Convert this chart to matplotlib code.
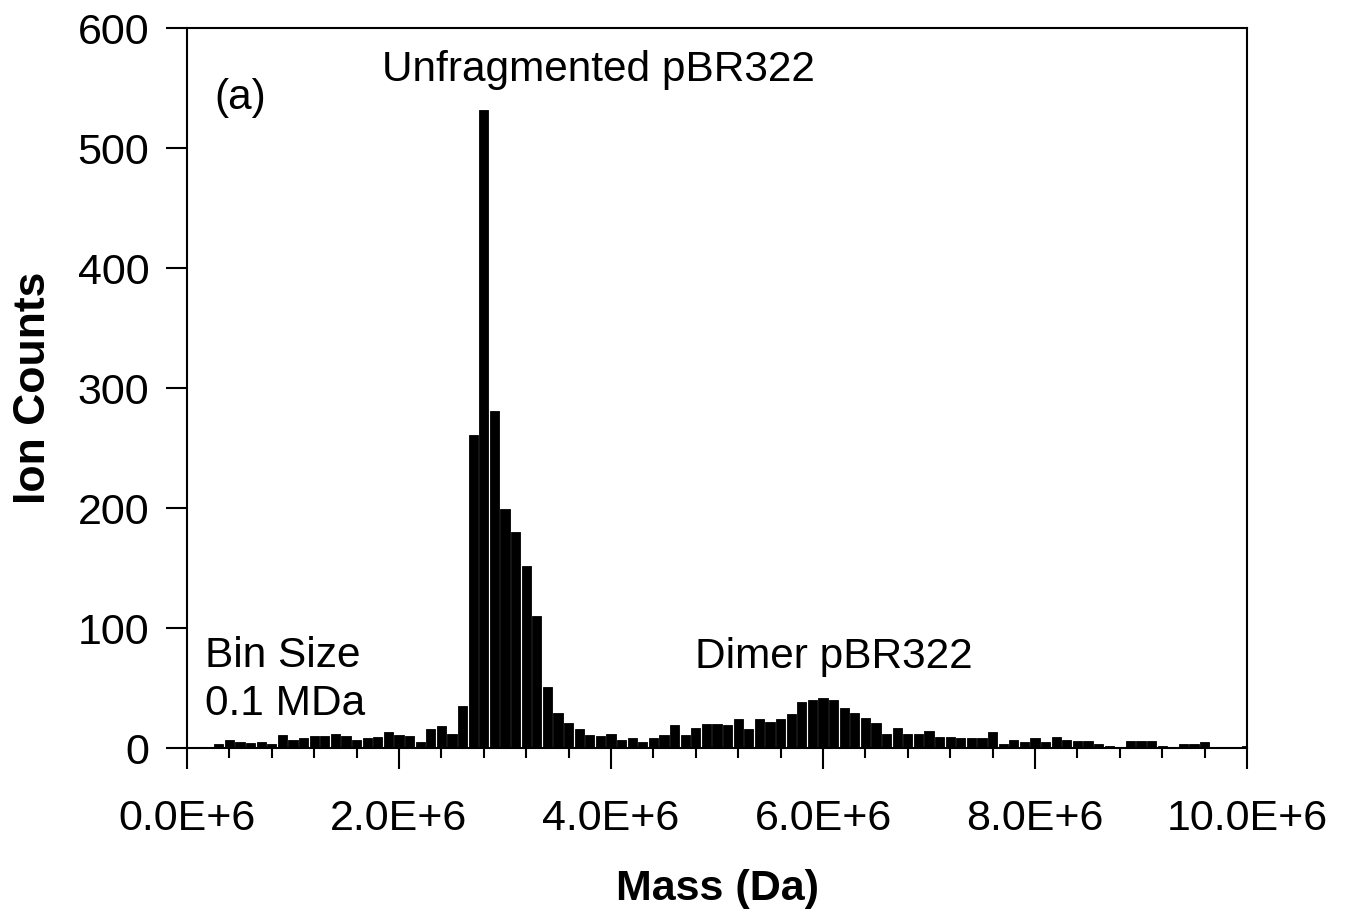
import numpy as np
import matplotlib
matplotlib.use('Agg')
import matplotlib.pyplot as plt
from matplotlib.ticker import MultipleLocator, FuncFormatter

# ion counts per 0.1 MDa bin, bins 0.0 .. 10.0 MDa
counts = [1, 1, 1, 3, 7, 5, 4, 5, 3, 11,
          7, 8, 10, 10, 12, 10, 7, 8, 9, 13,
          11, 10, 5, 16, 18, 12, 35, 261, 532, 281,
          199, 180, 152, 110, 51, 29, 21, 16, 11, 10,
          12, 7, 8, 5, 8, 11, 19, 11, 17, 20,
          20, 19, 24, 16, 24, 22, 24, 28, 38, 40,
          42, 40, 33, 29, 25, 21, 12, 17, 12, 12,
          14, 9, 9, 8, 8, 8, 13, 3, 7, 5,
          8, 5, 9, 7, 6, 6, 3, 2, 1, 6,
          6, 6, 2, 1, 3, 3, 5, 0, 0, 0,
          2]
bin_size = 0.1e6
mass = np.arange(len(counts)) * bin_size

plt.rcParams['font.family'] = ['Liberation Sans', 'DejaVu Sans']

fig = plt.figure(figsize=(13.48, 9.13), dpi=100)
ax = fig.add_axes([0.1387, 0.1807, 0.9251 - 0.1387, 0.9693 - 0.1807])

ax.bar(mass, counts, width=0.088e6, color='black', edgecolor='black', linewidth=0.6)

ax.set_xlim(0, 10e6)
ax.set_ylim(0, 600)

ax.xaxis.set_major_locator(MultipleLocator(2e6))
ax.xaxis.set_minor_locator(MultipleLocator(0.4e6))
ax.xaxis.set_major_formatter(FuncFormatter(lambda v, p: f'{v/1e6:.1f}E+6'))
ax.yaxis.set_major_locator(MultipleLocator(100))

ax.tick_params(axis='both', which='major', labelsize=31, direction='out', width=1.5, color='black')
ax.tick_params(axis='x', which='major', length=15, pad=22)
ax.tick_params(axis='x', which='minor', length=7, width=1.5)
ax.tick_params(axis='y', which='major', length=15, pad=12)
for s in ax.spines.values():
    s.set_linewidth(1.5)

ax.set_xlabel('Mass (Da)', fontsize=31, fontweight='bold', labelpad=21)
ax.set_ylabel('Ion Counts', fontsize=32, fontweight='bold', labelpad=17)

ax.text(3.88e6, 565, 'Unfragmented pBR322', fontsize=30.5, ha='center', va='center')
ax.text(0.26e6, 542, '(a)', fontsize=30.5, ha='left', va='center')
ax.text(0.17e6, 77, 'Bin Size', fontsize=30.5, ha='left', va='center')
ax.text(0.17e6, 37, '0.1 MDa', fontsize=30.5, ha='left', va='center')
ax.text(6.1e6, 76, 'Dimer pBR322', fontsize=30.5, ha='center', va='center')

fig.savefig('out.png', dpi=100)
